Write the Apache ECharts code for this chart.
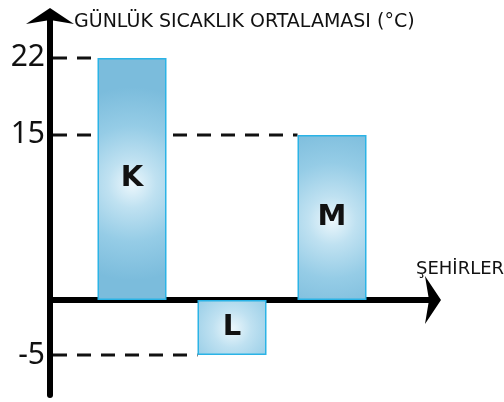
<!DOCTYPE html>
<html>
<head>
<meta charset="utf-8">
<script src="https://cdn.jsdelivr.net/npm/echarts@6/dist/echarts.min.js"></script>
<style>html,body{margin:0;padding:0;background:#fff;}#c{width:504px;height:402px;}</style>
</head>
<body>
<div id="c"></div>
<script>
const cities = ['K', 'L', 'M'];
const temperatures = [22, -5, 15];
const tickValues = [22, 15, -5];
const yTitle = 'GÜNLÜK SICAKLIK ORTALAMASI (°C)';
const xTitle = 'ŞEHİRLER';

const Y_MIN = -8.64, Y_MAX = 25.9;
const BAR_W = 69;

const chart = echarts.init(document.getElementById('c'));
const barFill = {
  type: 'radial', x: 0.5, y: 0.52, r: 1.4,
  colorStops: [
    {offset: 0, color: '#ecf7fc'},
    {offset: 0.25, color: '#bfe1f1'},
    {offset: 0.6, color: '#95cce6'},
    {offset: 1, color: '#7bbcdc'}
  ]
};
chart.setOption({
  animation: false,
  backgroundColor: '#fff',
  title: [
    {text: yTitle, left: 69, top: 8, textStyle: {fontFamily: 'DejaVu Sans', fontSize: 19, fontWeight: 'normal', color: '#111'}},
    {text: xTitle, left: 411, top: 255, textStyle: {fontFamily: 'DejaVu Sans', fontSize: 18, fontWeight: 'normal', color: '#111'}}
  ],
  grid: [
    {left: 82, right: 122, top: 15, bottom: 7},
    {left: 50, right: 70, top: 15, bottom: 7}
  ],
  xAxis: [
    {type: 'category', gridIndex: 0, data: cities, show: false},
    {type: 'value', gridIndex: 1, min: 0, max: 1,
     axisLine: {show: true, onZero: true, symbol: ['none', 'arrow'], symbolSize: [36, 16], symbolOffset: [0, 7], lineStyle: {color: '#000', width: 6}},
     axisTick: {show: false}, axisLabel: {show: false}, splitLine: {show: false}}
  ],
  yAxis: [
    {type: 'value', gridIndex: 0, min: Y_MIN, max: Y_MAX, show: false},
    {type: 'value', gridIndex: 1, min: Y_MIN, max: Y_MAX,
     axisLine: {show: true, onZero: true, symbol: ['none', 'arrow'], symbolSize: [36, 16], symbolOffset: [0, 7], lineStyle: {color: '#000', width: 6}},
     axisTick: {show: false},
     axisLabel: {show: true, customValues: tickValues, margin: 5, fontFamily: 'Noto Sans', fontSize: 30, color: '#111'},
     splitLine: {show: false}}
  ],
  series: [{
    type: 'bar', xAxisIndex: 0, yAxisIndex: 0, data: temperatures, barWidth: BAR_W, z: 3,
    itemStyle: {color: barFill, borderColor: '#2bb3e6', borderWidth: 1.5},
    label: {show: true, position: 'inside', formatter: '{b}', fontFamily: 'DejaVu Sans', fontWeight: 'bold', fontSize: 29, color: '#111'}
  }]
});

// dashed guide lines from the y axis to each bar's end
const graphics = [];
cities.forEach((c, i) => {
  const v = temperatures[i];
  const py = chart.convertToPixel({yAxisIndex: 0}, v);
  const cx = chart.convertToPixel({xAxisIndex: 0}, c);
  const x0 = chart.convertToPixel({xAxisIndex: 1}, 0) + 3;
  graphics.push({
    type: 'line', z: 0,
    shape: {x1: x0, y1: py, x2: cx - BAR_W / 2, y2: py},
    style: {stroke: '#111', lineWidth: 3, lineDash: [14, 10]}
  });
});
chart.setOption({graphic: graphics});
</script>
</body>
</html>
